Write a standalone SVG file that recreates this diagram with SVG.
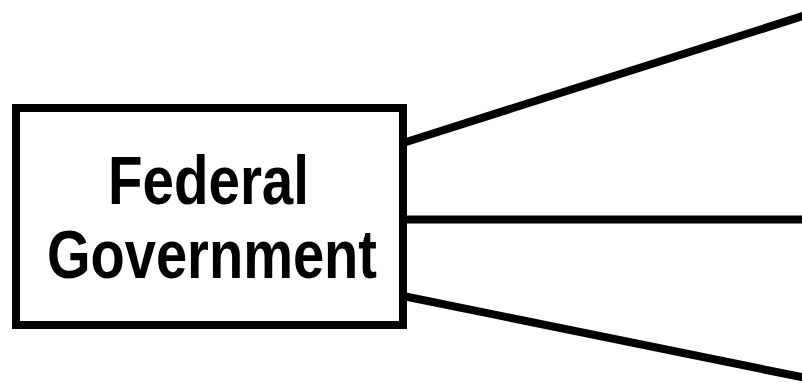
<svg xmlns="http://www.w3.org/2000/svg" width="802" height="384" viewBox="0 0 802 384">
  <style>
    .box { fill: #ffffff; stroke: #000000; stroke-width: 8; }
    .edge { stroke: #000000; stroke-width: 8; fill: none; }
    .label { font-family: "Liberation Sans", Arial, sans-serif; font-weight: bold; font-size: 68px; fill: #000000; }
  </style>
  <rect width="802" height="384" fill="#ffffff"/>
  <g id="connectors">
    <line class="edge" x1="403" y1="143" x2="806" y2="15"/>
    <line class="edge" x1="403" y1="219.5" x2="806" y2="219.5"/>
    <line class="edge" x1="403" y1="296" x2="806" y2="378"/>
  </g>
  <g id="federal-government">
    <rect class="box" x="16" y="108" width="387" height="217"/>
    <text class="label" x="108" y="204" textLength="201" lengthAdjust="spacingAndGlyphs">Federal</text>
    <text class="label" x="47" y="278" textLength="330" lengthAdjust="spacingAndGlyphs">Government</text>
  </g>
</svg>
